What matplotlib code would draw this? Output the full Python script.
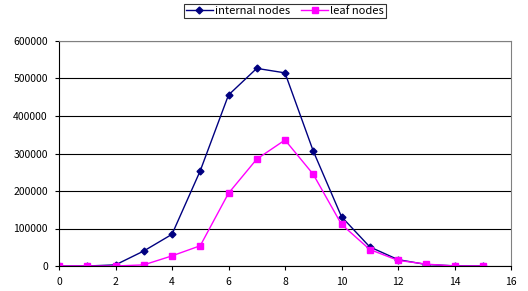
import matplotlib
matplotlib.use("Agg")
import matplotlib.pyplot as plt

plt.rcParams['font.family'] = ['Noto Sans CJK JP', 'DejaVu Sans']

# depth on x axis
depth = list(range(16))
internal_nodes = [0, 0, 3000, 40000, 84500, 254000, 456000, 527000, 515000,
                  306500, 131500, 51000, 17000, 4000, 500, 0]
leaf_nodes = [0, 0, 0, 3000, 27000, 54000, 194000, 285000, 336000,
              244500, 111000, 44000, 15000, 5000, 0, 0]
x_ticks = list(range(0, 17, 2))
y_ticks = list(range(0, 600001, 100000))

fig = plt.figure(figsize=(5.28, 2.91), dpi=100)
ax = fig.add_axes([59 / 528, 25 / 291, (511 - 59) / 528, (266 - 41) / 291])

ax.plot(depth, internal_nodes, color='#000080', marker='D', markersize=3.5,
        linewidth=1, label='internal nodes')
ax.plot(depth, leaf_nodes, color='#FF00FF', marker='s', markersize=4.5,
        linewidth=1, label='leaf nodes')

ax.set_xlim(0, 16)
ax.set_ylim(0, 600000)
ax.set_xticks(x_ticks)
ax.set_yticks(y_ticks)
ax.set_yticklabels([str(v) for v in y_ticks])
ax.tick_params(labelsize=7.5, length=3, width=0.8, direction='out')
ax.tick_params(axis='x', pad=5)
ax.tick_params(axis='y', pad=5)
ax.yaxis.grid(True, color='black', linewidth=0.8)
ax.set_axisbelow(True)
for side in ['top', 'right']:
    ax.spines[side].set_color('#808080')
for side in ['left', 'bottom']:
    ax.spines[side].set_color('black')

leg = fig.legend(loc='upper center', bbox_to_anchor=(285 / 528, 1 - 4 / 291), ncol=2,
                 fontsize=8, frameon=True, fancybox=False, edgecolor='black',
                 borderpad=0.2, handlelength=2.4, handletextpad=0.2, columnspacing=1.0,
                 borderaxespad=0)
leg.get_frame().set_linewidth(0.8)

fig.savefig('out.png', dpi=100)
